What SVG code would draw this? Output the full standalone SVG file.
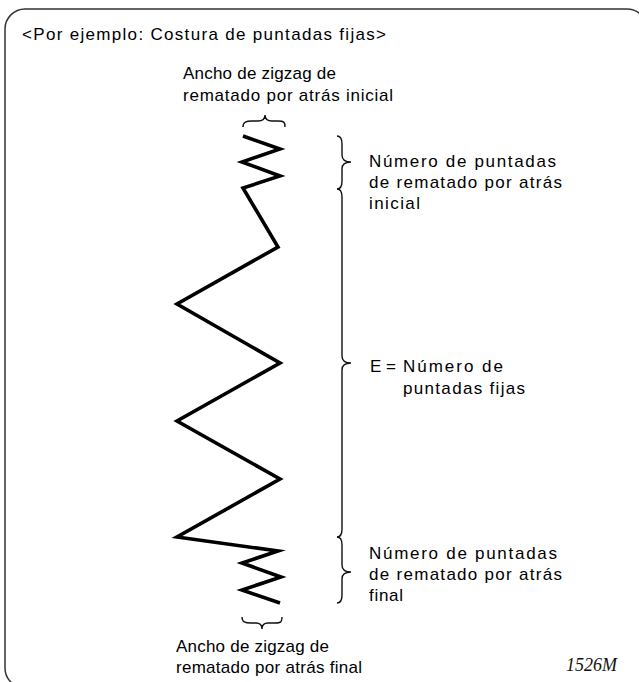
<svg xmlns="http://www.w3.org/2000/svg" width="639" height="682" viewBox="0 0 639 682">
<style>
.t{font-family:"Liberation Sans",Arial,sans-serif;font-size:17px;fill:#000;}
.m{font-family:"Liberation Serif","Times New Roman",serif;font-style:italic;font-size:18px;fill:#111;}
.br{fill:none;stroke:#111;stroke-width:1.4;}
.zz{fill:none;stroke:#000;stroke-width:3.6;stroke-linejoin:miter;stroke-miterlimit:8;}
</style>
<rect x="5" y="9" width="642" height="679" rx="20" ry="20" fill="#fff" stroke="#333" stroke-width="1.5"/>
<text class="t" x="22" y="40" textLength="364" lengthAdjust="spacing">&lt;Por ejemplo: Costura de puntadas fijas&gt;</text>
<g id="stitch">
<polyline class="zz" points="243,136 280,149 242,162 280,176 243,188 278,247 177,304 280,363 177,421 280,479 177,537 278,551 242,563 281,577 242,590 280,603"/>
</g>
<g id="label-width-start">
<text class="t" x="183" y="79" textLength="153" lengthAdjust="spacing">Ancho de zigzag de</text>
<text class="t" x="183" y="101" textLength="210" lengthAdjust="spacing">rematado por atrás inicial</text>
</g>
<g id="label-count-start">
<text class="t" x="369" y="167" textLength="187" lengthAdjust="spacing">Número de puntadas</text>
<text class="t" x="369" y="188" textLength="193" lengthAdjust="spacing">de rematado por atrás</text>
<text class="t" x="369" y="209" textLength="51" lengthAdjust="spacing">inicial</text>
</g>
<g id="label-fixed">
<text class="t" x="370" y="372">E =</text>
<text class="t" x="403" y="372" textLength="100" lengthAdjust="spacing">Número de</text>
<text class="t" x="403" y="394" textLength="122" lengthAdjust="spacing">puntadas fijas</text>
</g>
<g id="label-count-end">
<text class="t" x="369" y="559" textLength="188" lengthAdjust="spacing">Número de puntadas</text>
<text class="t" x="369" y="580" textLength="193" lengthAdjust="spacing">de rematado por atrás</text>
<text class="t" x="369" y="601" textLength="34" lengthAdjust="spacing">final</text>
</g>
<g id="label-width-end">
<text class="t" x="176" y="652" textLength="153" lengthAdjust="spacing">Ancho de zigzag de</text>
<text class="t" x="176" y="673" textLength="186" lengthAdjust="spacing">rematado por atrás final</text>
</g>
<text class="m" x="566" y="671">1526M</text>
<g id="connectors">
<path class="br" d="M243,127 C243,122 246,121 252,121 L258,121 C262,121 265,119 265,115 C265,119 268,121 272,121 L278,121 C284,121 285,122 285,127"/>
<path class="br" d="M242,617 C242,622 245,623 251,623 L256,623 C260,623 262,625 262,629 C262,625 264,623 268,623 L275,623 C281,623 282,622 282,617"/>
<path class="br" d="M337,136 C341,136 342,139 342,144 L342,155 C342,160 345,162 351,162 C345,162 342,164 342,169 L342,181 C342,186 341,189 337,189"/>
<path class="br" d="M337,189 C341,189 342,192 342,197 L342,356 C342,361 345,363 351,363 C345,363 342,365 342,370 L342,529 C342,534 341,537 337,537"/>
<path class="br" d="M337,537 C341,537 342,540 342,545 L342,565 C342,570 345,572 351,572 C345,572 342,574 342,579 L342,595 C342,600 341,603 337,603"/>
</g>
</svg>
